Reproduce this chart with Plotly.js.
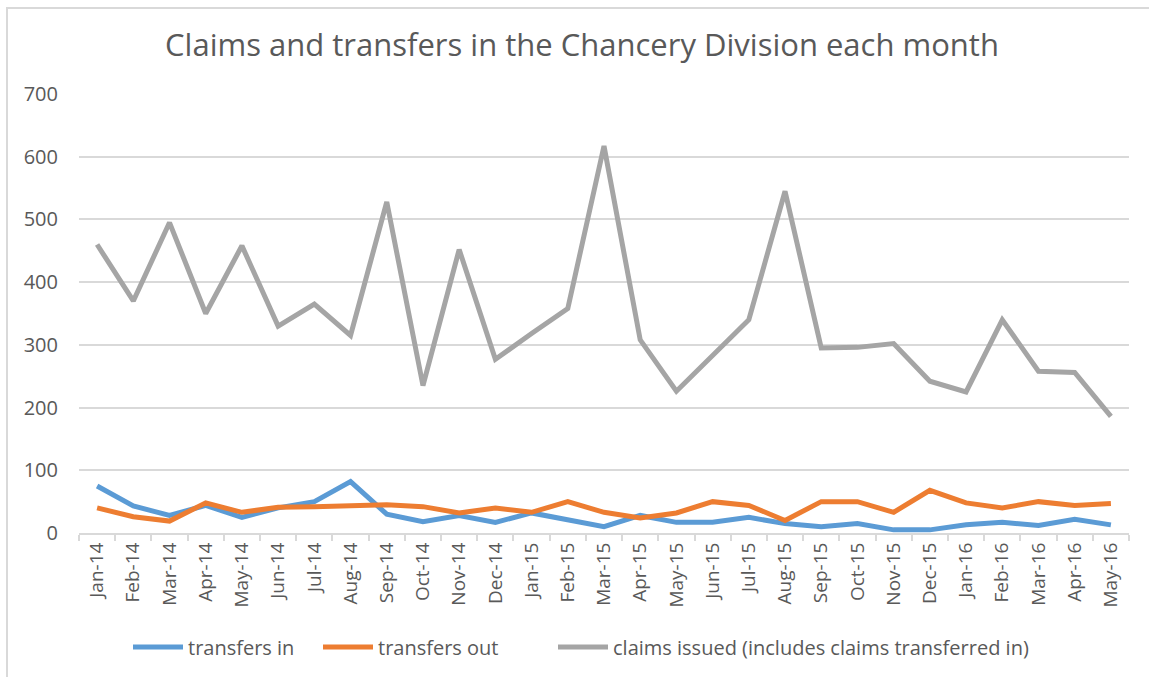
<!DOCTYPE html>
<html>
<head>
<meta charset="utf-8">
<script src="https://cdn.plot.ly/plotly-3.0.1.min.js"></script>
<style>
  html, body { margin: 0; padding: 0; background: #fff; overflow: hidden; }
  #chart { width: 1149px; height: 677px; position: absolute; left: 0; top: 0; }
  #frame { position: absolute; left: 6px; top: 7px; width: 1300px; height: 800px;
           border-left: 2px solid #d9d9d9; border-top: 2px solid #d9d9d9; pointer-events: none; }
</style>
</head>
<body>
<div id="chart"></div>
<div id="frame"></div>
<script>
const months = ["Jan-14","Feb-14","Mar-14","Apr-14","May-14","Jun-14","Jul-14","Aug-14","Sep-14","Oct-14","Nov-14","Dec-14",
                "Jan-15","Feb-15","Mar-15","Apr-15","May-15","Jun-15","Jul-15","Aug-15","Sep-15","Oct-15","Nov-15","Dec-15",
                "Jan-16","Feb-16","Mar-16","Apr-16","May-16"];
const transfersIn  = [75, 43, 28, 44, 25, 40, 50, 82, 30, 18, 28, 17, 32, 22, 10, 28, 17, 17, 25, 15, 10, 15, 5, 5, 13, 17, 12, 22, 13];
const transfersOut = [40, 26, 19, 48, 33, 41, 42, 43, 45, 42, 32, 40, 33, 50, 33, 24, 32, 50, 44, 20, 50, 50, 33, 68, 48, 40, 50, 44, 47];
const claimsIssued = [460, 370, 495, 350, 458, 330, 365, 315, 528, 235, 452, 277, 318, 358, 617, 308, 226, 283, 340, 545, 295, 296, 302, 242, 225, 340, 258, 256, 186];
const yTicks = [0, 100, 200, 300, 400, 500, 600, 700];

const font = "Open Sans, sans-serif";
const traces = [
  {x: months, y: transfersIn, name: "transfers in", type: "scatter", mode: "lines",
   line: {color: "#5B9BD5", width: 5}, legend: "legend"},
  {x: months, y: transfersOut, name: "transfers out", type: "scatter", mode: "lines",
   line: {color: "#ED7D31", width: 5}, legend: "legend2"},
  {x: months, y: claimsIssued, name: "claims issued (includes claims transferred in)", type: "scatter", mode: "lines",
   line: {color: "#A5A5A5", width: 5}, legend: "legend3"}
];

const L = 79, W = 1050, B = 533, H = 439;
function legendAt(px) {
  return {orientation: "h", x: (px - L) / W, xanchor: "left", y: (B - 647) / H, yanchor: "middle", itemwidth: 50,
          font: {family: font, size: 20, color: "#595959"}, bgcolor: "rgba(0,0,0,0)", borderwidth: 0};
}

const layout = {
  width: 1149, height: 677,
  margin: {l: L, r: 1149 - L - W, t: 94, b: 677 - B, autoexpand: false},
  paper_bgcolor: "#ffffff", plot_bgcolor: "#ffffff",
  font: {family: font, color: "#595959"},
  title: {text: "Claims and transfers in the Chancery Division each month",
          font: {family: font, size: 31, color: "#595959"},
          x: 582/1149, xanchor: "center", y: 1 - 45/677, yanchor: "middle", xref: "container", yref: "container"},
  xaxis: {type: "category", tickmode: "array", tickvals: months, ticktext: months, tickangle: -90, tickson: "boundaries",
          ticks: "outside", ticklen: 6, tickcolor: "#d9d9d9", tickwidth: 2,
          showline: true, linecolor: "#d9d9d9", linewidth: 2, showgrid: false, zeroline: false, automargin: false,
          tickfont: {family: font, size: 19, color: "#595959"}, range: [-0.5, 28.5], fixedrange: true},
  yaxis: {range: [0, 700], tickvals: yTicks, ticktext: yTicks.map(String), showgrid: true, gridcolor: "#d9d9d9", gridwidth: 2,
          zeroline: false, showline: false, ticks: "", ticklabelstandoff: 20, automargin: false,
          tickfont: {family: font, size: 20, color: "#595959"}, fixedrange: true},
  legend: legendAt(128),
  legend2: legendAt(318),
  legend3: legendAt(553),
  showlegend: true
};

Plotly.newPlot("chart", traces, layout, {displayModeBar: false, staticPlot: true});
</script>
</body>
</html>
